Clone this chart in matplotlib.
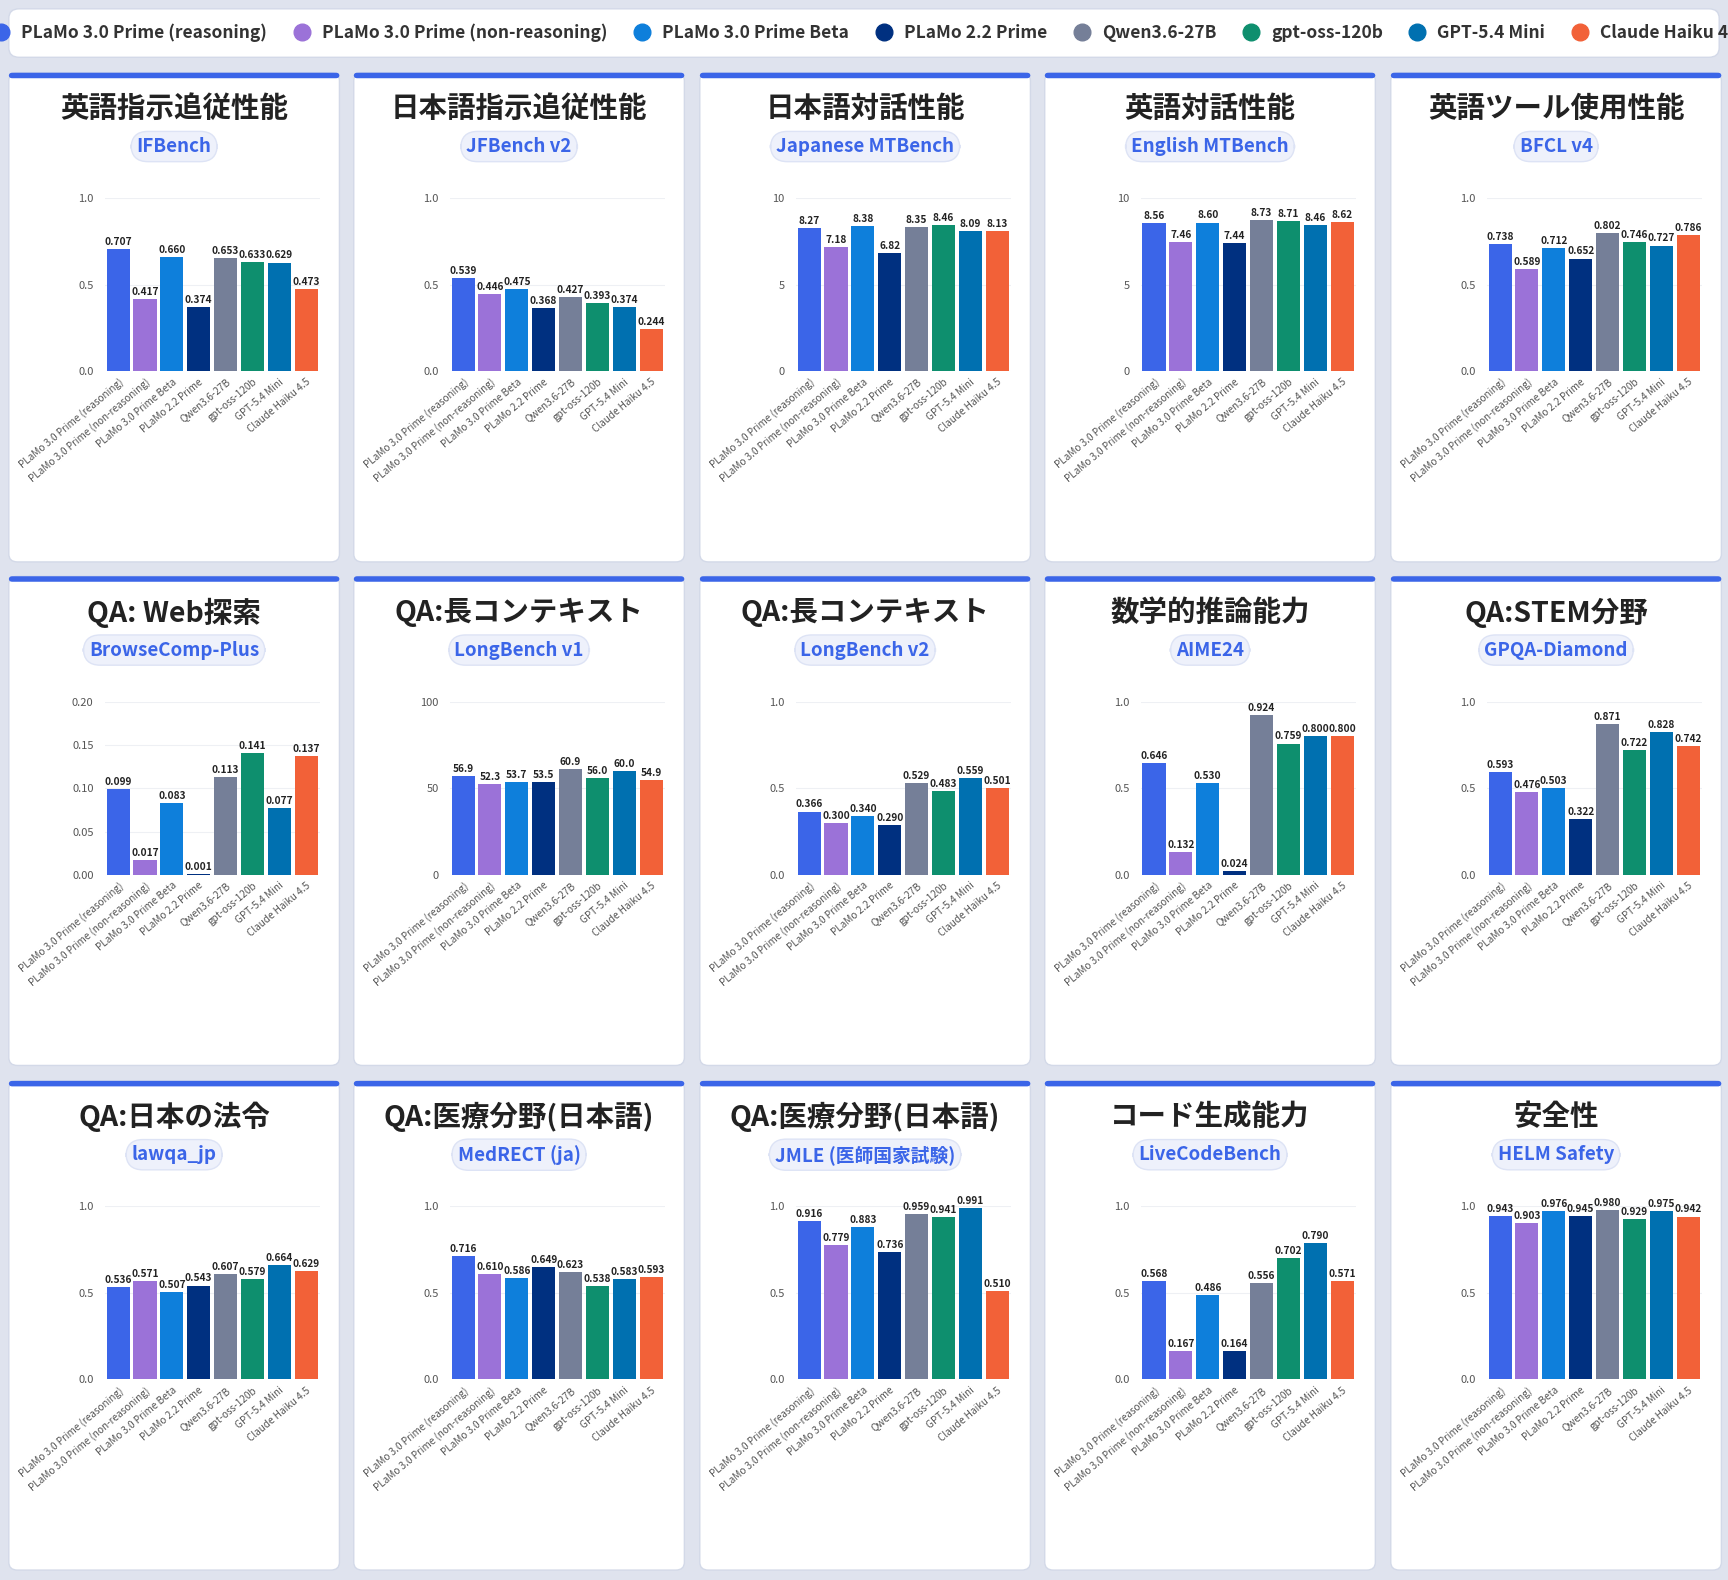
import matplotlib

matplotlib.use("Agg")
import matplotlib.pyplot as plt  # noqa: E402
from matplotlib.patches import FancyBboxPatch  # noqa: E402

plt.rcParams["font.family"] = ["Noto Sans CJK JP", "DejaVu Sans"]

MODELS = [
    "PLaMo 3.0 Prime (reasoning)",
    "PLaMo 3.0 Prime (non-reasoning)",
    "PLaMo 3.0 Prime Beta",
    "PLaMo 2.2 Prime",
    "Qwen3.6-27B",
    "gpt-oss-120b",
    "GPT-5.4 Mini",
    "Claude Haiku 4.5",
]
COLORS = ["#3b65e8", "#9b72d8", "#0e7fdb", "#003080", "#757f98", "#0e8f6e", "#0070b0", "#f26138"]

TITLES = [
    "英語指示追従性能", "日本語指示追従性能", "日本語対話性能", "英語対話性能", "英語ツール使用性能",
    "QA: Web探索", "QA:長コンテキスト", "QA:長コンテキスト", "数学的推論能力", "QA:STEM分野",
    "QA:日本の法令", "QA:医療分野(日本語)", "QA:医療分野(日本語)", "コード生成能力", "安全性",
]
BENCHES = [
    "IFBench", "JFBench v2", "Japanese MTBench", "English MTBench", "BFCL v4",
    "BrowseComp-Plus", "LongBench v1", "LongBench v2", "AIME24", "GPQA-Diamond",
    "lawqa_jp", "MedRECT (ja)", "JMLE (医師国家試験)", "LiveCodeBench", "HELM Safety",
]
SCORES = [
    [0.707, 0.417, 0.660, 0.374, 0.653, 0.633, 0.629, 0.473],
    [0.539, 0.446, 0.475, 0.368, 0.427, 0.393, 0.374, 0.244],
    [8.27, 7.18, 8.38, 6.82, 8.35, 8.46, 8.09, 8.13],
    [8.56, 7.46, 8.60, 7.44, 8.73, 8.71, 8.46, 8.62],
    [0.738, 0.589, 0.712, 0.652, 0.802, 0.746, 0.727, 0.786],
    [0.099, 0.017, 0.083, 0.001, 0.113, 0.141, 0.077, 0.137],
    [56.9, 52.3, 53.7, 53.5, 60.9, 56.0, 60.0, 54.9],
    [0.366, 0.300, 0.340, 0.290, 0.529, 0.483, 0.559, 0.501],
    [0.646, 0.132, 0.530, 0.024, 0.924, 0.759, 0.800, 0.800],
    [0.593, 0.476, 0.503, 0.322, 0.871, 0.722, 0.828, 0.742],
    [0.536, 0.571, 0.507, 0.543, 0.607, 0.579, 0.664, 0.629],
    [0.716, 0.610, 0.586, 0.649, 0.623, 0.538, 0.583, 0.593],
    [0.916, 0.779, 0.883, 0.736, 0.959, 0.941, 0.991, 0.510],
    [0.568, 0.167, 0.486, 0.164, 0.556, 0.702, 0.790, 0.571],
    [0.943, 0.903, 0.976, 0.945, 0.980, 0.929, 0.975, 0.942],
]
YMAX = [1.0, 1.0, 10, 10, 1.0, 0.20, 100, 1.0, 1.0, 1.0, 1.0, 1.0, 1.0, 1.0, 1.0]
YTICKS = {
    1.0: ([0, 0.5, 1.0], ["0.0", "0.5", "1.0"], "{:.3f}"),
    10: ([0, 5, 10], ["0", "5", "10"], "{:.2f}"),
    0.20: ([0, 0.05, 0.10, 0.15, 0.20], ["0.00", "0.05", "0.10", "0.15", "0.20"], "{:.3f}"),
    100: ([0, 50, 100], ["0", "50", "100"], "{:.1f}"),
}

# layout measured on a 1568x1434 grid, converted to fractions
W, H = 1568.0, 1434.0
COL_X = [8, 321, 635, 948, 1262]
ROW_Y = [66, 523, 981]
CARD_W, CARD_H = 300, 444


def fx(x):
    return x / W


def fy(y):
    return 1 - y / H


fig = plt.figure(figsize=(17.28, 15.80), dpi=100)
fig.patch.set_facecolor("#dfe3ee")

# legend bar
fig.patches.append(FancyBboxPatch((fx(8), fy(52)), fx(1552), 44 / H, boxstyle="round,pad=0,rounding_size=0.006",
                                  transform=fig.transFigure, facecolor="white", edgecolor="#d3d9e8", lw=1))
handles = [plt.Line2D([], [], marker="o", ls="", ms=12, color=c) for c in COLORS]
leg = fig.legend(handles, MODELS, loc="center", bbox_to_anchor=(0.5, fy(30)), ncol=8, frameon=False,
                 handletextpad=0.15, columnspacing=1.0, prop={"size": 12.5, "weight": "bold"},
                 labelcolor="#333333")
leg.set_zorder(5)

for i in range(15):
    r, c = divmod(i, 5)
    x0, y0 = COL_X[c], ROW_Y[r]
    # card
    fig.patches.append(FancyBboxPatch((fx(x0), fy(y0 + CARD_H)), fx(CARD_W), CARD_H / H,
                                      boxstyle="round,pad=0,rounding_size=0.005", transform=fig.transFigure,
                                      facecolor="white", edgecolor="#d3d9e8", lw=1))
    fig.patches.append(FancyBboxPatch((fx(x0), fy(y0 + 5)), fx(CARD_W), 5 / H,
                                      boxstyle="round,pad=0,rounding_size=0.002", transform=fig.transFigure,
                                      facecolor="#3b65e8", edgecolor="none"))
    cx = fx(x0 + CARD_W / 2)
    fig.text(cx, fy(y0 + 33), TITLES[i], ha="center", va="center", fontsize=20.5, weight="bold", color="#222222")
    fig.text(cx, fy(y0 + 67), BENCHES[i], ha="center", va="center", fontsize=13.5, weight="bold", color="#3b65e8",
             bbox=dict(boxstyle="round,pad=0.3,rounding_size=0.9", facecolor="#eef1fb", edgecolor="#dde3f5"))

    ax = fig.add_axes([fx(x0 + 87), fy(y0 + 271), fx(195), 157 / H])
    ax.set_zorder(3)
    ymax = YMAX[i]
    ticks, labels, fmt = YTICKS[ymax]
    xs = range(len(MODELS))
    bars = ax.bar(xs, SCORES[i], width=0.86, color=COLORS, zorder=3)
    for b, v in zip(bars, SCORES[i]):
        ax.text(b.get_x() + b.get_width() / 2, v + ymax * 0.012, fmt.format(v), ha="center", va="bottom",
                fontsize=7.3, weight="bold", color="#222222", zorder=4)
    ax.set_xlim(-0.5, 7.5)
    ax.set_ylim(0, ymax)
    ax.set_yticks(ticks, labels)
    ax.set_xticks(list(xs), MODELS, rotation=40, ha="right", rotation_mode="anchor")
    ax.tick_params(axis="x", labelsize=7.2, labelcolor="#555555", length=0, pad=4)
    ax.tick_params(axis="y", labelsize=8, labelcolor="#555555", length=0, pad=8)
    ax.grid(axis="y", color="#eef0f4", lw=0.8, zorder=0)
    for s in ax.spines.values():
        s.set_visible(False)
    ax.set_facecolor("none")

fig.savefig("out.png", dpi=100)
